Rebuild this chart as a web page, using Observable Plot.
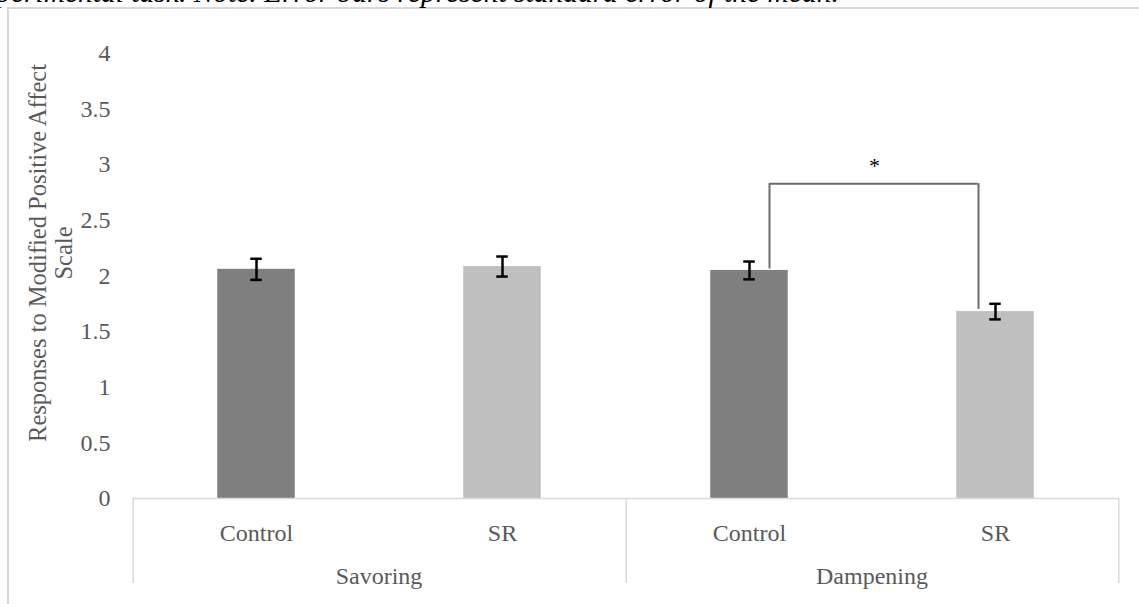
<!DOCTYPE html>
<html><head><meta charset="utf-8">
<script src="https://cdn.jsdelivr.net/npm/d3@7"></script>
<script src="https://cdn.jsdelivr.net/npm/@observablehq/plot@0.6"></script>
<style>
html,body{margin:0;padding:0;background:#fff;}
#page{position:relative;width:1139px;height:604px;overflow:hidden;background:#fff;}
#caption{position:absolute;left:-30px;top:-23px;font:italic 29.5px "Liberation Serif","Times New Roman",serif;white-space:nowrap;color:#000;line-height:30px;}
#border{position:absolute;left:7px;top:7px;width:1200px;height:700px;border:2px solid #d9d9d9;box-sizing:border-box;}
#chart{position:absolute;left:0;top:0;}
</style></head><body>
<div id="page"><div id="border"></div><div id="caption">experimental task. Note. Error bars represent standard error of the mean.</div><div id="chart"></div></div>
<script>
// ---- data ----
const groups = ["Savoring", "Dampening"];
const conditions = ["Control", "SR"];
const means = [2.06, 2.085, 2.05, 1.68];
const stdErrors = [0.095, 0.09, 0.08, 0.07];
const barColors = ["#7f7f7f", "#bfbfbf"];
const yTicks = [0, 0.5, 1, 1.5, 2, 2.5, 3, 3.5, 4];
const yTitle = "Responses to Modified Positive Affect\nScale";
const bracketGroup = ["Dampening"];
const bracketFrom = ["Control"];
const bracketTo = ["SR"];
const bracketFromY = [2.063];
const bracketToY = [1.70];
const bracketTop = [2.83];
const bracketLabel = ["*"];

const data = [];
groups.forEach((g, gi) => conditions.forEach((c, ci) => {
  const i = gi * conditions.length + ci;
  data.push({group: g, condition: c, mean: means[i], se: stdErrors[i]});
}));
const brackets = bracketGroup.map((g, i) => ({group: g, from: bracketFrom[i], to: bracketTo[i],
  fromY: bracketFromY[i], toY: bracketToY[i], top: bracketTop[i], label: bracketLabel[i]}));

const W = 1139, H = 604, ML = 132, MR = 21, MT = 53, MB = 106;
const band = (W - ML - MR) / (groups.length * conditions.length);
const half = band / 2;
const gridColor = "#d9d9d9";
const textColor = "#595959";
const bracketColor = "#6b6b6b";

const chart = Plot.plot({
  width: W, height: H,
  marginTop: MT, marginBottom: MB, marginLeft: ML, marginRight: MR,
  style: {fontFamily: "'Liberation Serif','Times New Roman',serif", fontSize: "24px", color: textColor, background: "transparent", overflow: "visible"},
  fx: {domain: groups, padding: 0, axis: null},
  x: {domain: conditions, padding: 0, tickSize: 0, tickPadding: 25, label: null},
  y: {domain: [0, 4], ticks: yTicks, tickSize: 0, tickPadding: 22, label: null, tickFormat: d => String(d)},
  color: {domain: conditions, range: barColors},
  marks: [
    Plot.barY(data, {fx: "group", x: "condition", y: "mean", fill: "condition", insetLeft: half - 39, insetRight: half - 39}),
    Plot.ruleY([0], {stroke: gridColor, strokeWidth: 1.5}),
    Plot.ruleX([conditions[0]], {x: d => d, dx: -half, insetTop: H - MT - MB, insetBottom: -85, stroke: gridColor, strokeWidth: 1.5}),
    Plot.ruleX([{g: groups[groups.length - 1], c: conditions[conditions.length - 1]}], {fx: "g", x: "c", dx: half, insetTop: H - MT - MB, insetBottom: -85, stroke: gridColor, strokeWidth: 1.5}),
    // error bars
    Plot.ruleX(data, {fx: "group", x: "condition", y1: d => d.mean - d.se, y2: d => d.mean + d.se, stroke: "#000", strokeWidth: 2.5}),
    Plot.tickY(data, {fx: "group", x: "condition", y: d => d.mean + d.se, stroke: "#000", strokeWidth: 2.5, insetLeft: half - 6, insetRight: half - 6}),
    Plot.tickY(data, {fx: "group", x: "condition", y: d => d.mean - d.se, stroke: "#000", strokeWidth: 2.5, insetLeft: half - 6, insetRight: half - 6}),
    // significance bracket
    Plot.ruleX(brackets, {fx: "group", x: "from", y1: "fromY", y2: "top", dx: 20, stroke: bracketColor, strokeWidth: 2}),
    Plot.ruleX(brackets, {fx: "group", x: "to", y1: "toY", y2: "top", dx: -17, stroke: bracketColor, strokeWidth: 2}),
    Plot.ruleY(brackets, {fx: "group", x1: "from", x2: "to", y: "top", insetLeft: half + 20, insetRight: half + 17, stroke: bracketColor, strokeWidth: 2}),
    Plot.text(brackets, {fx: "group", x: "from", y: "top", text: "label", dx: 125, dy: -18, fill: "#000", fontSize: 22, lineAnchor: "middle"}),
    // group labels
    Plot.text(groups, {fx: d => d, text: d => d, frameAnchor: "bottom", dy: 78, lineAnchor: "middle", fill: textColor, fontSize: 24}),
    // y-axis title
    Plot.text([yTitle], {fx: () => groups[0], text: d => d, frameAnchor: "left", rotate: -90, dx: -82, dy: -23, lineAnchor: "middle", textAnchor: "middle", fill: textColor, fontSize: 24.5, lineHeight: 1.05})
  ]
});
document.getElementById("chart").appendChild(chart);
</script>
</body></html>
